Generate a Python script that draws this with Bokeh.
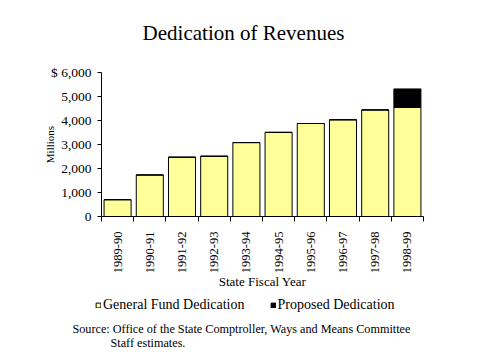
from bokeh.plotting import figure
from bokeh.layouts import column
from bokeh.models import (Legend, LegendItem, FixedTicker, ColumnDataSource,
                          Range1d, NumeralTickFormatter, Label)
from bokeh.embed import file_html
from bokeh.resources import INLINE
import math

years = ["1989-90", "1990-91", "1991-92", "1992-93", "1993-94",
         "1994-95", "1995-96", "1996-97", "1997-98", "1998-99"]
general = [700, 1730, 2470, 2510, 3080, 3505, 3875, 4030, 4440, 4545]
proposed = [0, 0, 0, 0, 0, 0, 0, 0, 0, 770]
y_ticks = [0, 1000, 2000, 3000, 4000, 5000, 6000]
series_names = ["General Fund Dedication", "Proposed Dedication"]
colors = ["#FFFF99", "#000000"]
title_text = "Dedication of Revenues"
source_lines = ["Source: Office of the State Comptroller, Ways and Means Committee",
                "Staff estimates."]

FONT = "Liberation Serif"
W = 471


def blank(height):
    f = figure(width=W, height=height, output_backend="svg", toolbar_location=None,
               x_axis_location=None, y_axis_location=None,
               x_range=Range1d(-1000, -999), y_range=Range1d(-1000, -999),
               min_border=0, min_border_left=0, min_border_right=0,
               min_border_top=0, min_border_bottom=0)
    f.outline_line_color = None
    f.xgrid.visible = False
    f.ygrid.visible = False
    return f


xc = [i + 0.5 for i in range(len(years))]
src = ColumnDataSource(dict(x=xc, general=general, proposed=proposed))

# top: title
H0 = 56
p0 = blank(H0)
p0.add_layout(Label(x=243, y=H0 - 32, x_units="screen", y_units="screen",
                    text=title_text, text_font=FONT, text_font_size="21px",
                    text_color="black", text_align="center", text_baseline="middle"))

# main chart
p = figure(width=W, height=236, output_backend="svg", toolbar_location=None,
           x_range=Range1d(0, len(years)), y_range=Range1d(0, 6000),
           min_border_left=101, min_border_right=48, min_border_top=16,
           min_border_bottom=74)
p.outline_line_color = None
p.xgrid.visible = False
p.ygrid.visible = False

rs = p.vbar_stack(["general", "proposed"], x="x", width=0.84, color=colors,
                  line_color="black", line_width=1, source=src)

# x axis
p.xaxis.ticker = FixedTicker(ticks=xc, minor_ticks=list(range(len(years) + 1)))
p.xaxis.major_label_overrides = {v: y for v, y in zip(xc, years)}
p.xaxis.major_tick_out = 0
p.xaxis.major_tick_in = 0
p.xaxis.minor_tick_out = 5
p.xaxis.minor_tick_in = 0
p.xaxis.minor_tick_line_color = "black"
p.xaxis.major_label_orientation = math.pi / 2
p.xaxis.major_label_text_font = FONT
p.xaxis.major_label_text_font_size = "12.5px"
p.xaxis.major_label_text_color = "black"
p.xaxis.major_label_standoff = 10
p.xaxis.axis_line_color = "black"
p.xaxis.axis_label = "State Fiscal Year"
p.xaxis.axis_label_text_font = FONT
p.xaxis.axis_label_text_font_style = "normal"
p.xaxis.axis_label_text_font_size = "13px"
p.xaxis.axis_label_text_color = "black"
p.xaxis.axis_label_standoff = -2

# y axis
p.yaxis.ticker = FixedTicker(ticks=y_ticks, minor_ticks=[])
p.yaxis.formatter = NumeralTickFormatter(format="0,0")
p.yaxis.major_label_overrides = {6000: "$ 6,000"}
p.yaxis.major_tick_out = 4
p.yaxis.major_tick_in = 0
p.yaxis.major_tick_line_color = "black"
p.yaxis.major_label_text_font = FONT
p.yaxis.major_label_text_font_size = "13.5px"
p.yaxis.major_label_text_color = "black"
p.yaxis.major_label_standoff = 6
p.yaxis.axis_line_color = "black"
p.yaxis.axis_label = "Millions"
p.yaxis.axis_label_text_font = FONT
p.yaxis.axis_label_text_font_style = "normal"
p.yaxis.axis_label_text_font_size = "11px"
p.yaxis.axis_label_text_color = "black"
p.yaxis.axis_label_standoff = -8

# bottom: legend + source note
H2 = 59
p2 = blank(H2)
proxies = p2.vbar_stack(["general", "proposed"], x="x", width=0.84, color=colors,
                        line_color="black", line_width=1, source=src)
legend = Legend(items=[LegendItem(label=n, renderers=[r]) for n, r in zip(series_names, proxies)],
                orientation="horizontal", location=(95, 38),
                label_text_font=FONT, label_text_font_size="14px",
                label_text_color="black",
                glyph_width=6, glyph_height=6, spacing=25, padding=0, margin=0,
                label_standoff=2,
                border_line_color=None, background_fill_alpha=0)
p2.add_layout(legend, "center")
p2.add_layout(Label(x=72, y=23, x_units="screen", y_units="screen",
                    text=source_lines[0], text_font=FONT, text_font_size="12.2px",
                    text_color="black", text_baseline="middle"))
p2.add_layout(Label(x=110, y=9, x_units="screen", y_units="screen",
                    text=source_lines[1], text_font=FONT, text_font_size="12.2px",
                    text_color="black", text_baseline="middle"))

layout = column(column(p0), column(p), column(p2), spacing=0)
open("out.html", "w").write(file_html(layout, INLINE))
